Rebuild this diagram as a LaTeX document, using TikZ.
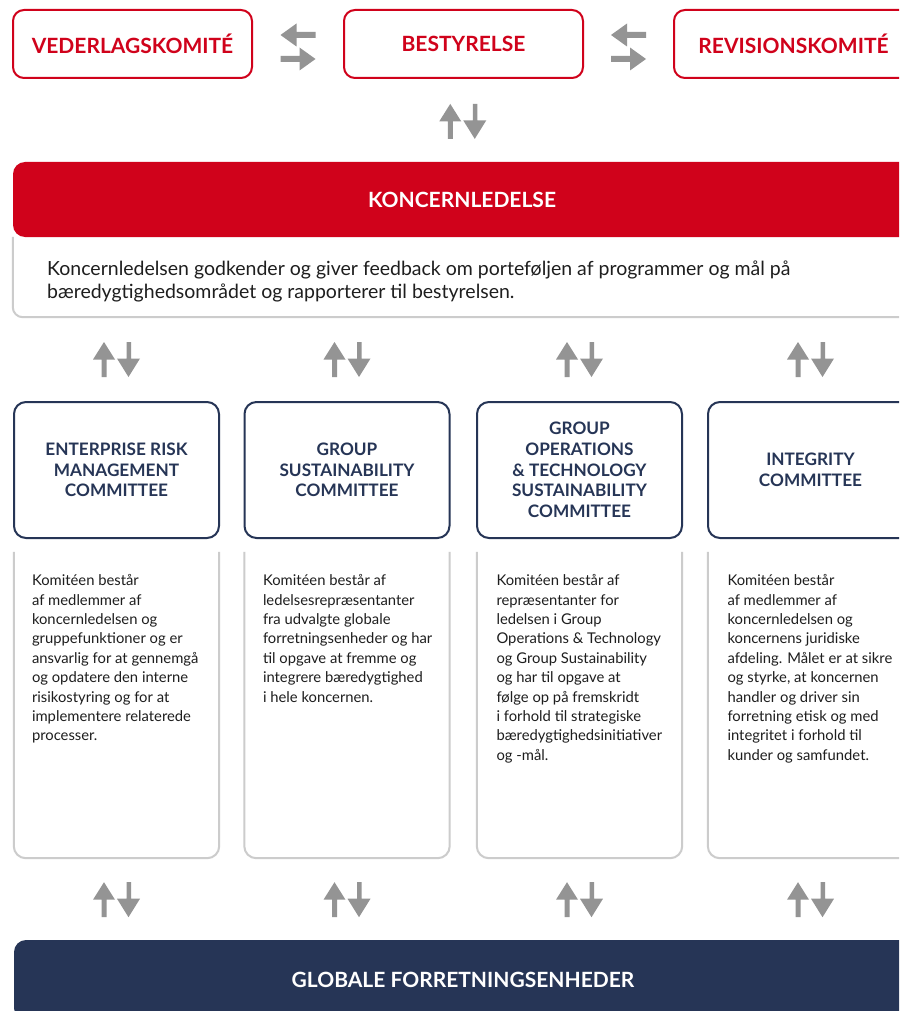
\documentclass[tikz,border=0pt]{standalone}
\usepackage{fontspec}
\setmainfont{Lato}
\usetikzlibrary{calc}
\definecolor{dred}{RGB}{208,2,27}
\definecolor{navy}{RGB}{38,53,86}
\definecolor{agray}{RGB}{148,148,148}
\definecolor{bgray}{RGB}{204,204,204}
\definecolor{txt}{RGB}{30,30,30}
\tikzset{
  redbox/.style={draw=dred, line width=2pt, rounded corners=11pt, minimum width=239pt, minimum height=68pt, inner sep=0pt, text=dred, font=\fontsize{21pt}{24pt}\selectfont\bfseries},
  navybox/.style={draw=navy, line width=2pt, rounded corners=12pt, minimum width=205pt, minimum height=136pt, inner sep=0pt, text=navy, align=center, font=\fontsize{17.2pt}{20.7pt}\selectfont\bfseries},
  barbox/.style={rounded corners=12pt, minimum width=898pt, inner sep=0pt, text=white, font=\fontsize{21pt}{24pt}\selectfont\bfseries},
  framebox/.style={minimum width=205pt, minimum height=306pt, inner sep=0pt},
  grayline/.style={draw=bgray, line width=2pt},
  desctext/.style={anchor=north west, inner sep=0pt, align=left, text=txt, font=\fontsize{14.8pt}{19.4pt}\selectfont},
  vpair/.pic={
    \fill[agray] (-15,17.5) -- (-15,0) -- (-23.5,0) -- (-12.5,-17.5) -- (-1.5,0) -- (-10,0) -- (-10,17.5) -- cycle;
    \fill[agray] (10,-17.5) -- (10,-1) -- (0.5,-1) -- (12,17.5) -- (23.5,-1) -- (14.5,-1) -- (14.5,-17.5) -- cycle;
  },
  hpair/.pic={
    \fill[agray] (-17.5,-12) -- (-1.5,-23.5) -- (-1.5,-15) -- (17.5,-15) -- (17.5,-9) -- (-1.5,-9) -- (-1.5,-0.5) -- cycle;
    \fill[agray] (17.5,12) -- (1.5,0.5) -- (1.5,9) -- (-17.5,9) -- (-17.5,15) -- (1.5,15) -- (1.5,23.5) -- cycle;
  }
}
\begin{document}
\begin{tikzpicture}[x=1pt,y=-1pt]
\clip (0,0) rectangle (899,1011);
\fill[white] (0,0) rectangle (899,1011);

% top row
\node[redbox] (veder) at (132.5,44) {VEDERLAGSKOMITÉ};
\node[redbox] (best) at (463.5,44) {BESTYRELSE};
\node[redbox] (rev) at (793.5,44) {REVISIONSKOMITÉ};
\pic at ($(veder.east)!0.5!(best.west)+(0,3)$) {hpair};
\pic at ($(best.east)!0.5!(rev.west)+(0,3)$) {hpair};

% koncernledelse
\node[barbox, fill=dred, minimum height=75pt] (koncern) at (462,199.5) {KONCERNLEDELSE};
\pic at ($(best.south)!0.5!(koncern.north)+(0,1)$) {vpair};

\node[minimum width=898pt, minimum height=80pt, inner sep=0pt] (kdesc) at (462,277) {};
\draw[grayline, rounded corners=10pt] (kdesc.north west) -- (kdesc.south west) -- (kdesc.south east);
\node[anchor=north west, inner sep=0pt, align=left, text=txt, font=\fontsize{19.5pt}{23pt}\selectfont] (ktext) at (47,261)
  {Koncernledelsen godkender og giver feedback om porteføljen af programmer og mål på\\bæredygtighedsområdet og rapporterer til bestyrelsen.};

% committees
\node[navybox] (c1) at (116.5,470) {ENTERPRISE RISK\\MANAGEMENT\\COMMITTEE};
\node[navybox] (c2) at (347,470) {GROUP\\SUSTAINABILITY\\COMMITTEE};
\node[navybox] (c3) at (579.5,470) {GROUP\\OPERATIONS\\\& TECHNOLOGY\\SUSTAINABILITY\\COMMITTEE};
\node[navybox] (c4) at (810.5,470) {INTEGRITY\\COMMITTEE};

\foreach \c in {c1,c2,c3,c4}{
  \pic at ($(\c.north)+(0,-41.5)$) {vpair};
}

% description frames
\node[framebox] (d1) at (116.5,705) {};
\node[framebox] (d2) at (347,705) {};
\node[framebox] (d3) at (579.5,705) {};
\node[framebox] (d4) at (810.5,705) {};
\foreach \d in {d1,d2,d3,d4}{
  \draw[grayline, rounded corners=12pt] (\d.north west) -- (\d.south west) -- (\d.south east) -- (\d.north east);
}

\node[desctext] (t1) at ($(d1.north west)+(18,22.5)$) {Komitéen består\\af medlemmer af\\koncernledelsen og\\gruppefunktioner og er\\ansvarlig for at gennemgå\\og opdatere den interne\\risikostyring og for at\\implementere relaterede\\processer.};
\node[desctext] (t2) at ($(d2.north west)+(18.5,22.5)$) {Komitéen består af\\ledelsesrepræsentanter\\fra udvalgte globale\\forretningsenheder og har\\til opgave at fremme og\\integrere bæredygtighed\\i hele koncernen.};
\node[desctext] (t3) at ($(d3.north west)+(19.5,22.5)$) {Komitéen består af\\repræsentanter for\\ledelsen i Group\\Operations \& Technology\\og Group Sustainability\\og har til opgave at\\følge op på fremskridt\\i forhold til strategiske\\bæredygtighedsinitiativer\\og -mål.};
\node[desctext] (t4) at ($(d4.north west)+(19.5,22.5)$) {Komitéen består\\af medlemmer af\\koncernledelsen og\\koncernens juridiske\\afdeling. Målet er at sikre\\og styrke, at koncernen\\handler og driver sin\\forretning etisk og med\\integritet i forhold til\\kunder og samfundet.};

\foreach \d in {d1,d2,d3,d4}{
  \pic at ($(\d.south)+(0,41.5)$) {vpair};
}

% globale
\node[barbox, fill=navy, minimum height=80pt] (glob) at (463,980) {GLOBALE FORRETNINGSENHEDER};
\end{tikzpicture}
\end{document}
